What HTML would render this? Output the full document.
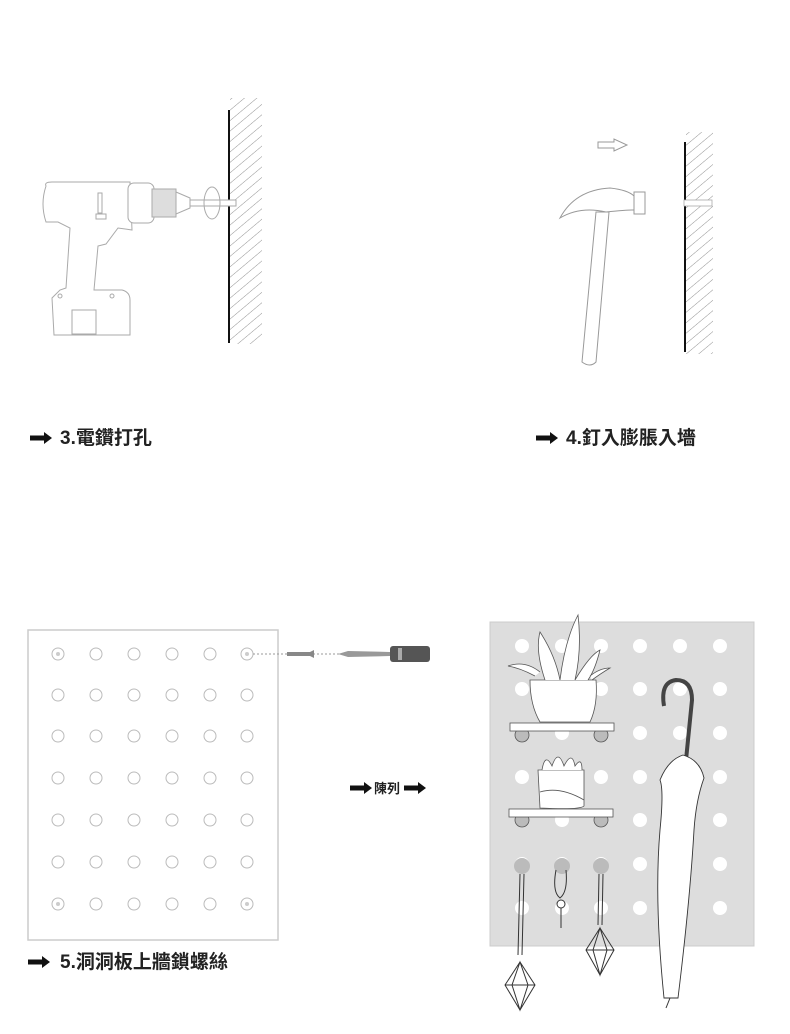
<!DOCTYPE html>
<html><head><meta charset="utf-8"><style>
body{margin:0;background:#fff;}
svg{display:block}
text{font-family:"Liberation Sans","Noto Sans CJK TC",sans-serif;font-weight:bold;fill:#222}
</style></head><body>
<svg width="790" height="1034" viewBox="0 0 790 1034" xmlns="http://www.w3.org/2000/svg">
<defs>
<pattern id="h" width="8" height="8" patternUnits="userSpaceOnUse" patternTransform="rotate(-40)">
<line x1="0" y1="0" x2="8" y2="0" stroke="#777" stroke-width="0.8"/>
</pattern>
<g id="arr"><polygon points="0,-2.5 14,-2.5 14,-6 22,0 14,6 14,2.5 0,2.5" fill="#111"/></g>
<g id="row">
<circle cx="58" cy="0" r="6"/><circle cx="96" cy="0" r="6"/><circle cx="134" cy="0" r="6"/><circle cx="172" cy="0" r="6"/><circle cx="210" cy="0" r="6"/><circle cx="247" cy="0" r="6"/>
</g>
<g id="r2"><circle cx="522" cy="0" r="7"/><circle cx="562" cy="0" r="7"/><circle cx="601" cy="0" r="7"/><circle cx="640" cy="0" r="7"/><circle cx="680" cy="0" r="7"/><circle cx="720" cy="0" r="7"/></g>
</defs>

<!-- wall 1 -->
<rect x="230" y="98" width="32" height="246" fill="url(#h)"/>
<line x1="229" y1="110" x2="229" y2="343" stroke="#111" stroke-width="2"/>
<!-- drill -->
<g fill="#fff" stroke="#aaa" stroke-width="1">
<path d="M46,186 Q44,182 52,182 L130,182 L132,230 L118,228 L106,244 L98,246 L94,290 L122,290 Q130,292 130,300 L130,335 L54,335 L52,298 L60,290 L66,288 L70,228 L58,222 L46,222 Q40,204 46,186Z"/>
<rect x="128" y="183" width="26" height="40" rx="6"/>
<rect x="152" y="189" width="24" height="28" fill="#ddd"/>
<path d="M176,192 L190,198 L190,208 L176,214Z"/>
<rect x="190" y="200" width="46" height="6" fill="#fff"/>
<ellipse cx="212" cy="203" rx="8" ry="16" fill="none"/>
<rect x="98" y="193" width="4" height="20"/>
<rect x="96" y="214" width="10" height="5"/>
<rect x="72" y="310" width="24" height="24"/>
<circle cx="60" cy="296" r="2"/><circle cx="112" cy="296" r="2"/>
</g>

<!-- wall 2 -->
<rect x="686" y="132" width="27" height="222" fill="url(#h)"/>
<line x1="685" y1="142" x2="685" y2="352" stroke="#111" stroke-width="2"/>
<rect x="684" y="200" width="28" height="6" fill="#fff" stroke="#aaa" stroke-width="0.8"/>
<path d="M598,142 L614,142 L614,139 L627,145 L614,151 L614,148 L598,148Z" fill="#fff" stroke="#999"/>
<!-- hammer -->
<g fill="#fff" stroke="#999" stroke-width="1">
<path d="M560,218 Q575,190 610,188 Q628,190 634,196 L644,196 L644,210 L632,210 Q626,210 606,212 Q580,206 560,218Z"/>
<rect x="634" y="192" width="11" height="22"/>
<path d="M596,212 L609,212 L596,362 Q590,368 582,362 Z"/>
</g>

<text x="60" y="444" font-size="19">3.電鑽打孔</text>
<use href="#arr" x="30" y="438"/>
<text x="566" y="444" font-size="19">4.釘入膨脹入墻</text>
<use href="#arr" x="536" y="438"/>

<!-- left board -->
<rect x="28" y="630" width="250" height="310" fill="#fff" stroke="#ccc" stroke-width="1.5"/>
<g fill="#fff" stroke="#bbb" stroke-width="1">
<use href="#row" y="654"/><use href="#row" y="695"/><use href="#row" y="736"/><use href="#row" y="778"/><use href="#row" y="820"/><use href="#row" y="862"/><use href="#row" y="904"/>
</g>
<g fill="#ccc"><circle cx="58" cy="654" r="2"/><circle cx="247" cy="654" r="2"/><circle cx="58" cy="904" r="2"/><circle cx="247" cy="904" r="2"/></g>
<line x1="253" y1="654" x2="340" y2="654" stroke="#999" stroke-dasharray="2,2"/>
<path d="M287,652 L310,652 L314,650 L314,658 L310,656 L287,656Z" fill="#888"/>
<path d="M338,654 L348,651 L390,652 L390,656 L348,657Z" fill="#999"/>
<rect x="390" y="646" width="40" height="16" rx="3" fill="#555"/>
<rect x="398" y="648" width="4" height="12" fill="#aaa"/>

<text x="60" y="968" font-size="19">5.洞洞板上牆鎖螺絲</text>
<use href="#arr" x="28" y="962"/>

<text x="374" y="793" font-size="13">陳列</text>
<use href="#arr" x="350" y="788"/>
<use href="#arr" x="404" y="788"/>

<!-- right board -->
<rect x="490" y="622" width="264" height="324" fill="#ddd" stroke="#ccc"/>
<g fill="#fff"><use href="#r2" y="646"/><use href="#r2" y="689"/><use href="#r2" y="733"/><use href="#r2" y="777"/><use href="#r2" y="820"/><use href="#r2" y="864"/><use href="#r2" y="908"/></g>
<g stroke="#555" stroke-width="0.8">
<circle cx="522" cy="735" r="7" fill="#bbb"/><circle cx="601" cy="735" r="7" fill="#bbb"/>
<rect x="510" y="723" width="104" height="8" fill="#fff"/>
<circle cx="522" cy="820" r="7" fill="#bbb"/><circle cx="601" cy="820" r="7" fill="#bbb"/>
<rect x="509" y="809" width="104" height="8" fill="#fff"/>
<path d="M530,680 L596,680 Q598,705 590,722 L540,722 Q530,705 530,680Z" fill="#fff"/>
<path d="M545,680 Q535,650 540,632 Q555,655 560,680 M560,680 Q565,640 578,615 Q582,650 575,680 M575,680 Q590,655 600,650 Q595,670 588,680 M535,676 Q520,668 508,666 Q525,660 540,672 M590,676 Q600,668 610,668 Q600,674 592,680" fill="#fff"/>
<path d="M538,770 L584,770 L584,806 Q580,810 540,808 Z" fill="#fff"/>
<path d="M540,792 Q560,786 584,800" fill="none"/>
<path d="M542,770 Q545,752 552,766 Q558,748 564,766 Q572,750 575,766 Q582,756 582,770" fill="#fff"/>
<circle cx="522" cy="866" r="8" fill="#bbb" stroke="none"/><circle cx="562" cy="866" r="8" fill="#bbb" stroke="none"/><circle cx="601" cy="866" r="8" fill="#bbb" stroke="none"/>
</g>
<g fill="none" stroke="#333" stroke-width="1">
<path d="M520,874 L518,955 M524,874 L522,955"/>
<path d="M599,874 L598,925 M603,874 L602,925"/>
<path d="M520,962 L505,985 L520,1010 L535,985Z M520,962 L512,985 L520,1010 L528,985Z M505,985 L535,985"/>
<path d="M600,928 L586,950 L600,975 L614,950Z M600,928 L593,950 L600,975 L607,950Z M586,950 L614,950"/>
<path d="M556,870 Q552,892 560,898 Q568,892 566,870"/>
<circle cx="561" cy="904" r="4" fill="#fff"/>
<path d="M561,908 L561,928"/>
</g>
<path d="M664,706 Q660,682 676,680 Q692,680 692,700 L686,760" fill="none" stroke="#444" stroke-width="4"/>
<path d="M683,755 Q700,760 704,778 Q696,800 694,830 Q690,900 678,998 L664,998 Q654,900 660,830 Q664,790 660,780 Q668,760 683,755Z" fill="#fff" stroke="#333" stroke-width="0.9"/>
<path d="M670,998 L666,1008" stroke="#333"/>
</svg>
</body></html>
